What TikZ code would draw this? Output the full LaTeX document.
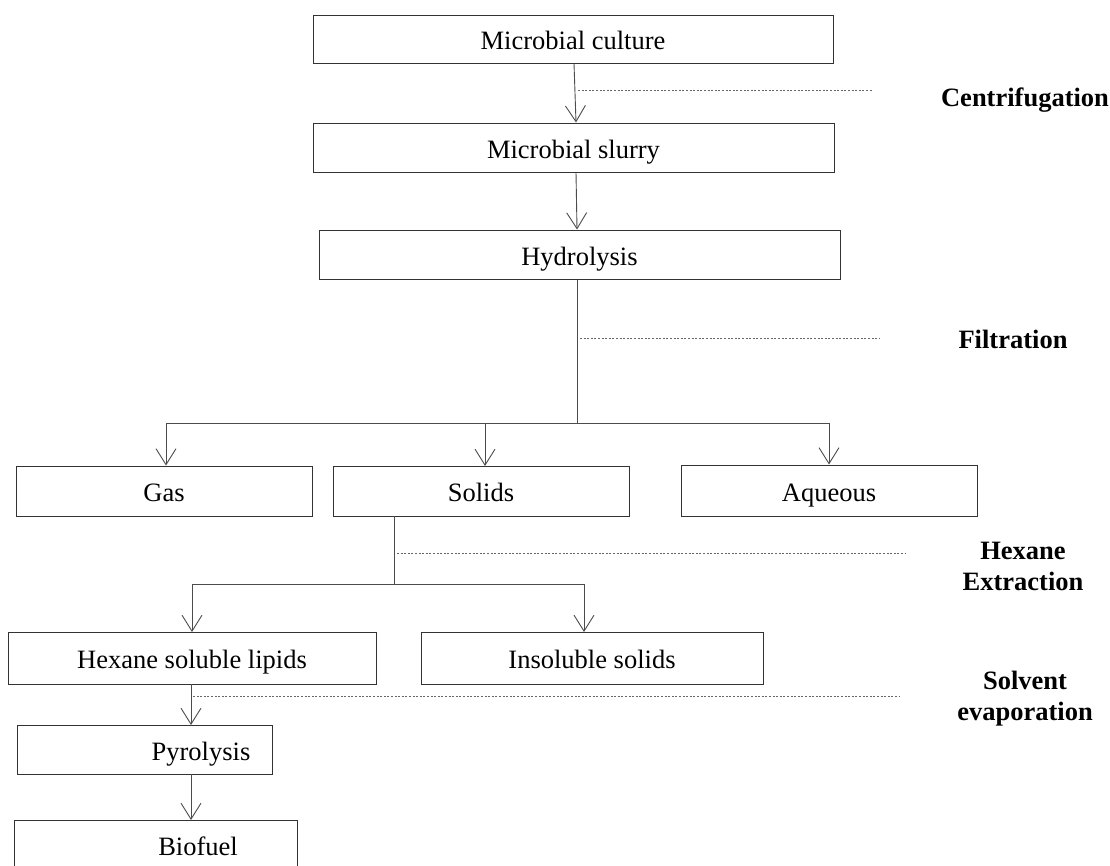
\documentclass[tikz,border=0pt]{standalone}
\usepackage{fontspec}
\setmainfont{Liberation Serif}
\usetikzlibrary{arrows.meta,calc}
\tikzset{
  box/.style={draw=black!80, line width=1pt, inner sep=0pt, text height=24pt, text depth=3pt, font=\fontsize{26.5}{31}\selectfont},
  conn/.style={draw=black!70, line width=0.9pt},
  arr/.style={conn, -{Straight Barb[length=16pt,width=20pt,line width=0.9pt]}},
  dots/.style={draw=black!60, line width=1pt, dash pattern=on 2pt off 1.6pt},
  steplabel/.style={font=\fontsize{26.5}{31}\selectfont\bfseries, align=center, inner sep=0pt},
  plain/.style={font=\fontsize{26.5}{31}\selectfont, inner sep=0pt, text height=24pt, text depth=3pt}
}
\begin{document}
\begin{tikzpicture}[x=1pt,y=-1pt]
\useasboundingbox (0,0) rectangle (1110,865);
% boxes
\node[box, minimum width=520pt, minimum height=48pt] (culture) at (573,39) {Microbial culture};
\node[box, minimum width=521pt, minimum height=49pt] (slurry) at (573.5,147.5) {Microbial slurry};
\node[box, minimum width=521pt, minimum height=49pt] (hydro) at (579.5,254.5) {Hydrolysis};
\node[box, minimum width=296pt, minimum height=50pt] (gas) at (164,491) {Gas};
\node[box, minimum width=296pt, minimum height=50pt] (solids) at (481,491) {Solids};
\node[box, minimum width=296pt, minimum height=51pt] (aqueous) at (829,490.5) {Aqueous};
\node[box, minimum width=368pt, minimum height=52pt] (hexlip) at (192,658) {Hexane soluble lipids};
\node[box, minimum width=342pt, minimum height=52pt] (insol) at (592,658) {Insoluble solids};
\node[box, minimum width=255pt, minimum height=49pt] (pyro) at (144.5,749.5) {};
\node[plain] (pyrotext) at (201,749.5) {Pyrolysis};
\node[box, minimum width=283pt, minimum height=50pt] (bio) at (155.5,845) {};
\node[plain] (biotext) at (198,845) {Biofuel};
% step labels
\node[steplabel] (centri) at (1025,100) {Centrifugation};
\node[steplabel] (filt) at (1013,339) {Filtration};
\node[steplabel] (hexext) at (1023,566.5) {Hexane\\Extraction};
\node[steplabel] (solvent) at (1025,698.5) {Solvent\\evaporation};
% connectors
\draw[arr] ($(culture.south)+(1,0)$) -- ($(slurry.north)+(2.5,0)$);
\draw[arr] ($(slurry.south)+(2.5,0)$) -- ($(hydro.north)+(-2.5,0)$);
\coordinate (split1) at ($(hydro.south)+(-2.5,144)$);
\draw[conn] ($(hydro.south)+(-2.5,0)$) -- (split1);
\coordinate (gasin) at (166,423);
\coordinate (aqin) at (829,423);
\draw[conn] (gasin) -- (aqin);
\draw[arr] (gasin) -- (gasin |- gas.north);
\draw[arr] (485,423) -- (485,466);
\draw[arr] (aqin) -- (aqueous.north);
\coordinate (split2) at (394,584);
\draw[conn] (394,516) -- (split2);
\draw[conn] (192,584) -- (584,584);
\draw[arr] (192,584) -- (192,632);
\draw[arr] (584,584) -- (584,632);
\draw[arr] (191,684) -- (191,725);
\draw[arr] (191,774) -- (191,820);
% dotted step markers
\draw[dots] (578,90) -- (873,90);
\draw[dots] (580,338) -- (880,338);
\draw[dots] (397,553) -- (905,553);
\draw[dots] (193,696) -- (900,696);
\end{tikzpicture}
\end{document}
